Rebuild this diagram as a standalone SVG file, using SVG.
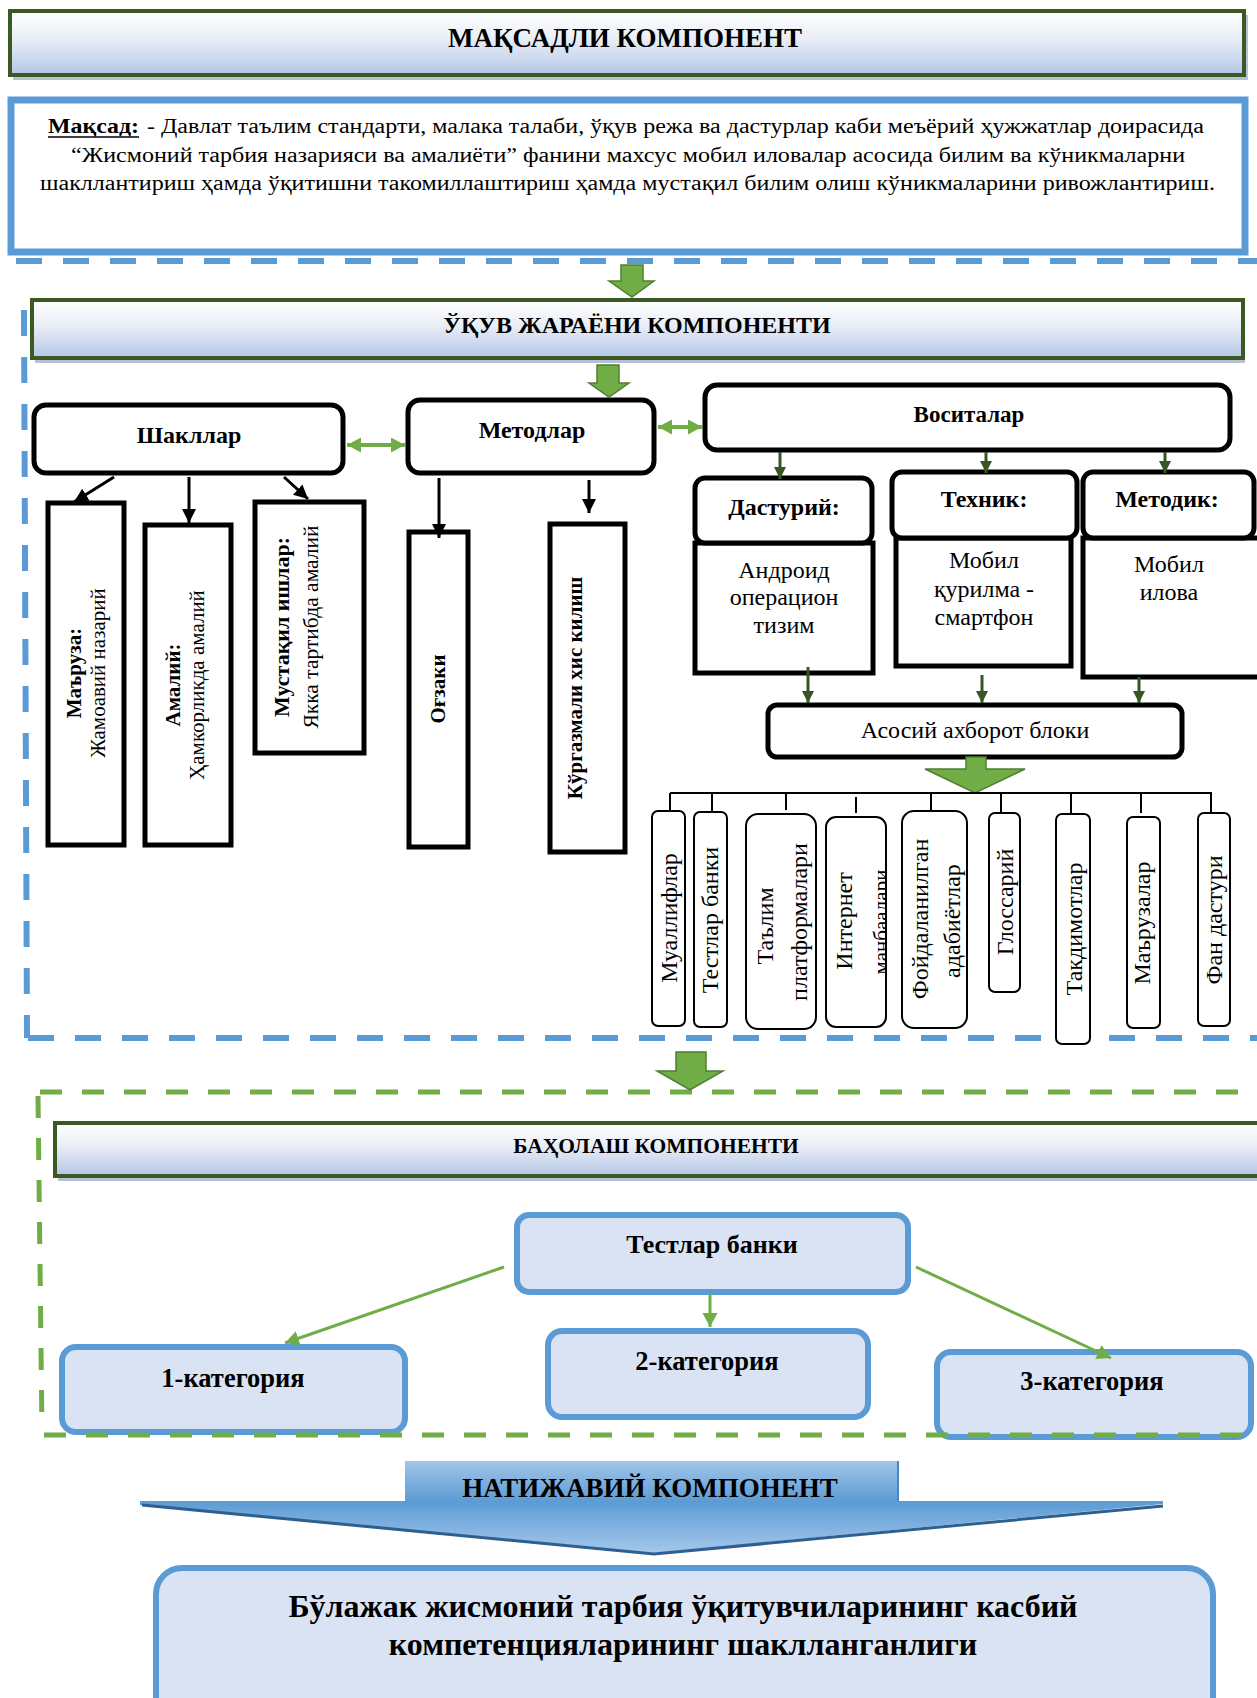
<svg xmlns="http://www.w3.org/2000/svg" width="1257" height="1698" viewBox="0 0 1257 1698">
<defs>
<linearGradient id="hg" x1="0" y1="0" x2="0" y2="1">
<stop offset="0" stop-color="#ffffff"/><stop offset="0.45" stop-color="#e8edf6"/><stop offset="1" stop-color="#b3c6e7"/>
</linearGradient>
<linearGradient id="bg" x1="0" y1="0" x2="0" y2="1">
<stop offset="0" stop-color="#a2c6e8"/><stop offset="1" stop-color="#5b9bd5"/>
</linearGradient>
<linearGradient id="ag" x1="0" y1="0" x2="0" y2="1">
<stop offset="0" stop-color="#5b9bd5"/><stop offset="1" stop-color="#a4c8ea"/>
</linearGradient>
<marker id="mk" markerUnits="userSpaceOnUse" markerWidth="16" markerHeight="16" refX="14" refY="7" orient="auto">
<path d="M0,0 L14,7 L0,14 Z" fill="#000"/>
</marker>
<marker id="mdg" markerUnits="userSpaceOnUse" markerWidth="14" markerHeight="14" refX="12" refY="6" orient="auto">
<path d="M0,0 L12,6 L0,12 Z" fill="#375623"/>
</marker>
<marker id="mg" markerUnits="userSpaceOnUse" markerWidth="16" markerHeight="16" refX="14" refY="7.5" orient="auto-start-reverse">
<path d="M0,0 L14,7.5 L0,15 Z" fill="#70ad47"/>
</marker>
<clipPath id="c4"><rect x="827" y="818" width="58" height="208" rx="10"/></clipPath>
<style>
.t{font-family:"Liberation Serif","Times New Roman",serif;fill:#000}
.b{font-weight:bold}
.m{text-anchor:middle}
.hd{fill:url(#hg);stroke:#3b5a23;stroke-width:4}
.sh{fill:#b7c1d3}
.blk{fill:#fff;stroke:#000;stroke-width:5}
.itm{fill:#fff;stroke:#000;stroke-width:2}
.bl{fill:#dae3f3;stroke:#5b9bd5;stroke-width:6}
.ga{fill:#70ad47;stroke:#507e32;stroke-width:1.5}
.dk{stroke:#000;stroke-width:3;fill:none;marker-end:url(#mk)}
.dg{stroke:#375623;stroke-width:3;fill:none;marker-end:url(#mdg)}
.lg{stroke:#70ad47;stroke-width:4;fill:none;marker-start:url(#mg);marker-end:url(#mg)}
.la{stroke:#70ad47;stroke-width:3;fill:none;marker-end:url(#mg)}
.bd{stroke:#5b9bd5;stroke-width:6;stroke-dasharray:26 21;fill:none}
.gd{stroke:#70ad47;stroke-width:5;stroke-dasharray:22 20;fill:none}
</style>
</defs>
<rect width="1257" height="1698" fill="#fff"/>

<!-- Goal component -->
<g id="goal-title">
<rect class="sh" x="13" y="15" width="1235" height="65"/>
<rect class="hd" x="10" y="11" width="1234" height="64"/>
<text class="t b m" x="625" y="47" font-size="27">МАҚСАДЛИ КОМПОНЕНТ</text>
</g>
<g id="goal-text">
<rect x="11" y="100" width="1234" height="152" fill="#fff" stroke="#5b9bd5" stroke-width="7"/>
<text class="t b" x="48" y="133" font-size="21" textLength="91" lengthAdjust="spacingAndGlyphs">Мақсад:</text>
<line x1="48" y1="137" x2="139" y2="137" stroke="#000" stroke-width="1.5"/>
<text class="t" x="147" y="133" font-size="20" textLength="1057" lengthAdjust="spacingAndGlyphs">- Давлат таълим стандарти, малака талаби, ўқув режа ва дастурлар каби меъёрий ҳужжатлар доирасида</text>
<text class="t" x="71" y="162" font-size="20" textLength="1114" lengthAdjust="spacingAndGlyphs">“Жисмоний тарбия назарияси ва амалиёти” фанини махсус мобил иловалар асосида билим ва кўникмаларни</text>
<text class="t" x="40" y="190" font-size="20" textLength="1175" lengthAdjust="spacingAndGlyphs">шакллантириш ҳамда ўқитишни такомиллаштириш ҳамда мустақил билим олиш кўникмаларини ривожлантириш.</text>
</g>

<!-- Process frame -->
<g id="process-frame">
<line class="bd" x1="16" y1="261" x2="1257" y2="261"/>
<line class="bd" x1="24" y1="310" x2="27" y2="1038"/>
<line class="bd" x1="28" y1="1038" x2="1257" y2="1038"/>
</g>

<g id="process-title">
<rect class="sh" x="35" y="304" width="1210" height="59"/>
<rect class="hd" x="32" y="300" width="1211" height="58"/>
<text class="t b m" x="637" y="333" font-size="24">ЎҚУВ ЖАРАЁНИ КОМПОНЕНТИ</text>
</g>

<g id="shakllar">
<rect class="blk" x="34" y="405" width="309" height="68" rx="12"/>
<text class="t b m" x="189" y="443" font-size="24">Шакллар</text>
</g>
<g id="metodlar">
<rect class="blk" x="408" y="400" width="246" height="73" rx="12"/>
<text class="t b m" x="532" y="438" font-size="24">Методлар</text>
</g>
<g id="vositalar">
<rect class="blk" x="705" y="385" width="525" height="65" rx="12"/>
<text class="t b m" x="969" y="422" font-size="23">Воситалар</text>
</g>

<g id="maruza">
<rect class="blk" x="48" y="503" width="76" height="342"/>
<text class="t b m" font-size="21" transform="translate(81,673) rotate(-90)">Маъруза:</text>
<text class="t m" font-size="21" transform="translate(105,673) rotate(-90)">Жамоавий назарий</text>
</g>
<g id="amaliy">
<rect class="blk" x="145" y="525" width="86" height="320"/>
<text class="t b m" font-size="21" transform="translate(180,685) rotate(-90)">Амалий:</text>
<text class="t m" font-size="21" transform="translate(204,685) rotate(-90)">Ҳамкорликда амалий</text>
</g>
<g id="mustaqil">
<rect class="blk" x="255" y="502" width="109" height="251"/>
<text class="t b m" font-size="22" transform="translate(289,627) rotate(-90)">Мустақил ишлар:</text>
<text class="t m" font-size="21.5" transform="translate(318,627) rotate(-90)">Якка тартибда амалий</text>
</g>
<g id="ogzaki">
<rect class="blk" x="409" y="532" width="59" height="315"/>
<text class="t b m" font-size="21" transform="translate(445,689) rotate(-90)">Оғзаки</text>
</g>
<g id="kurgazmali">
<rect class="blk" x="550" y="524" width="75" height="328"/>
<text class="t b m" font-size="21" transform="translate(582,688) rotate(-90)">Кўргазмали хис килиш</text>
</g>

<g id="dasturiy">
<rect class="blk" x="695" y="543" width="178" height="130" stroke-width="4"/>
<rect class="blk" x="695" y="478" width="177" height="65" rx="10" stroke-width="4"/>
<text class="t b m" x="784" y="515" font-size="24">Дастурий:</text>
<text class="t m" x="784" y="578" font-size="24">Андроид</text>
<text class="t m" x="784" y="605" font-size="24">операцион</text>
<text class="t m" x="784" y="633" font-size="24">тизим</text>
</g>
<g id="texnik">
<rect class="blk" x="896" y="538" width="175" height="128" stroke-width="4"/>
<rect class="blk" x="892" y="472" width="185" height="66" rx="10" stroke-width="4"/>
<text class="t b m" x="984" y="507" font-size="24">Техник:</text>
<text class="t m" x="984" y="568" font-size="24">Мобил</text>
<text class="t m" x="984" y="597" font-size="24">қурилма -</text>
<text class="t m" x="984" y="625" font-size="24">смартфон</text>
</g>
<g id="metodik">
<rect class="blk" x="1083" y="538" width="180" height="139" stroke-width="4"/>
<rect class="blk" x="1083" y="472" width="171" height="66" rx="10" stroke-width="4"/>
<text class="t b m" x="1167" y="507" font-size="24">Методик:</text>
<text class="t m" x="1169" y="572" font-size="24">Мобил</text>
<text class="t m" x="1169" y="600" font-size="24">илова</text>
</g>
<g id="asosiy">
<rect class="blk" x="768" y="705" width="414" height="52" rx="9" stroke-width="4"/>
<text class="t m" x="975" y="738" font-size="24">Асосий ахборот блоки</text>
</g>

<g id="items">
<g id="i1"><rect class="itm" x="652" y="811" width="33" height="215" rx="6"/>
<text class="t m" font-size="24" transform="translate(677,918) rotate(-90)">Муаллифлар</text></g>
<g id="i2"><rect class="itm" x="694" y="812" width="33" height="215" rx="6"/>
<text class="t m" font-size="24" transform="translate(718,920) rotate(-90)">Тестлар банки</text></g>
<g id="i3"><rect class="itm" x="746" y="814" width="70" height="215" rx="12"/>
<text class="t m" font-size="24" transform="translate(773,926) rotate(-90)">Таълим</text>
<text class="t m" font-size="24" transform="translate(807,922) rotate(-90)">платформалари</text></g>
<g id="i4"><rect class="itm" x="826" y="817" width="60" height="210" rx="10"/>
<text class="t m" font-size="24" transform="translate(852,921) rotate(-90)">Интернет</text>
<g clip-path="url(#c4)"><text class="t m" font-size="21" transform="translate(888,922) rotate(-90)">манбаалари</text></g></g>
<g id="i5"><rect class="itm" x="902" y="811" width="65" height="217" rx="12"/>
<text class="t m" font-size="24" transform="translate(928,919) rotate(-90)">Фойдаланилган</text>
<text class="t m" font-size="24" transform="translate(960,921) rotate(-90)">адабиётлар</text></g>
<g id="i6"><rect class="itm" x="989" y="813" width="31" height="179" rx="6"/>
<text class="t m" font-size="24" transform="translate(1013,902) rotate(-90)">Глоссарий</text></g>
<g id="i7"><rect class="itm" x="1056" y="814" width="34" height="230" rx="6"/>
<text class="t m" font-size="24" transform="translate(1082,929) rotate(-90)">Такдимотлар</text></g>
<g id="i8"><rect class="itm" x="1127" y="817" width="33" height="211" rx="6"/>
<text class="t m" font-size="24" transform="translate(1150,923) rotate(-90)">Маърузалар</text></g>
<g id="i9"><rect class="itm" x="1198" y="813" width="32" height="213" rx="6"/>
<text class="t m" font-size="24" transform="translate(1222,920) rotate(-90)">Фан дастури</text></g>
</g>

<!-- Assessment -->
<g id="assess-title">
<rect class="sh" x="58" y="1127" width="1210" height="54"/>
<rect class="hd" x="55" y="1123" width="1210" height="53"/>
<text class="t b m" x="656" y="1153" font-size="21.5">БАҲОЛАШ КОМПОНЕНТИ</text>
</g>
<g id="testlar-banki">
<rect class="bl" x="517" y="1215" width="391" height="77" rx="12"/>
<text class="t b m" x="712" y="1253" font-size="26">Тестлар банки</text>
</g>
<g id="cat1">
<rect class="bl" x="62" y="1347" width="343" height="85" rx="14"/>
<text class="t b m" x="233" y="1387" font-size="26.5">1-категория</text>
</g>
<g id="cat2">
<rect class="bl" x="548" y="1331" width="320" height="86" rx="14"/>
<text class="t b m" x="707" y="1370" font-size="26.5">2-категория</text>
</g>
<g id="cat3">
<rect class="bl" x="937" y="1352" width="314" height="85" rx="14"/>
<text class="t b m" x="1092" y="1390" font-size="26.5">3-категория</text>
</g>
<g id="assess-frame">
<line class="gd" x1="40" y1="1092" x2="1257" y2="1092"/>
<line class="gd" x1="38" y1="1096" x2="42" y2="1432"/>
<line class="gd" x1="44" y1="1435" x2="1257" y2="1435"/>
</g>

<!-- Result -->
<g id="result-banner">
<polygon points="140,1501 1163,1501 1163,1504 654,1553 140,1505" fill="url(#ag)"/>
<polyline points="142,1505 654,1554 1163,1506" fill="none" stroke="#2e5f8f" stroke-width="3"/>
<rect x="405" y="1461" width="493" height="41" fill="url(#bg)"/>
<line x1="898" y1="1461" x2="898" y2="1501" stroke="#4a86c0" stroke-width="2"/>
<text class="t b m" x="650" y="1497" font-size="27">НАТИЖАВИЙ КОМПОНЕНТ</text>
</g>
<g id="result-box">
<rect class="bl" x="156" y="1568" width="1057" height="160" rx="26"/>
<text class="t b m" x="683" y="1617" font-size="32">Бўлажак жисмоний тарбия ўқитувчиларининг касбий</text>
<text class="t b m" x="683" y="1655" font-size="32">компетенцияларининг шаклланганлиги</text>
</g>

<g id="connectors">
<polygon class="ga" points="621,265 643,265 643,281 654,281 632,297 609,281 621,281"/>
<polygon class="ga" points="597,365 619,365 619,383 629,383 609,397 589,383 597,383"/>
<polygon class="ga" points="966,757 986,757 986,769 1025,769 975,793 925,769 966,769"/>
<polygon class="ga" points="676,1052 706,1052 706,1071 723,1071 690,1090 657,1071 676,1071"/>
<line class="lg" x1="347" y1="445" x2="405" y2="445"/>
<line class="lg" x1="658" y1="427" x2="702" y2="427"/>
<line class="dk" x1="114" y1="477" x2="74" y2="502"/>
<line class="dk" x1="189" y1="477" x2="189" y2="523"/>
<line class="dk" x1="284" y1="477" x2="308" y2="499"/>
<line class="dk" x1="439" y1="478" x2="439" y2="538"/>
<line class="dk" x1="589" y1="480" x2="589" y2="513"/>
<line class="dg" x1="780" y1="452" x2="780" y2="479"/>
<line class="dg" x1="986" y1="452" x2="986" y2="473"/>
<line class="dg" x1="1165" y1="452" x2="1165" y2="473"/>
<line class="dg" x1="808" y1="667" x2="808" y2="703"/>
<line class="dg" x1="982" y1="675" x2="982" y2="703"/>
<line class="dg" x1="1139" y1="677" x2="1139" y2="703"/>
<g stroke="#000" stroke-width="2" fill="none">
<line x1="670" y1="793" x2="1212" y2="793"/>
<line x1="670" y1="793" x2="670" y2="811"/>
<line x1="712" y1="793" x2="712" y2="812"/>
<line x1="786" y1="793" x2="786" y2="810"/>
<line x1="856" y1="797" x2="856" y2="813"/>
<line x1="931" y1="793" x2="931" y2="812"/>
<line x1="1001" y1="793" x2="1001" y2="813"/>
<line x1="1071" y1="793" x2="1071" y2="814"/>
<line x1="1141" y1="793" x2="1141" y2="813"/>
<line x1="1211" y1="793" x2="1211" y2="813"/>
</g>
<line class="la" x1="504" y1="1267" x2="285" y2="1343"/>
<line class="la" x1="710" y1="1294" x2="710" y2="1327"/>
<line class="la" x1="916" y1="1267" x2="1111" y2="1358"/>
</g>
</svg>
